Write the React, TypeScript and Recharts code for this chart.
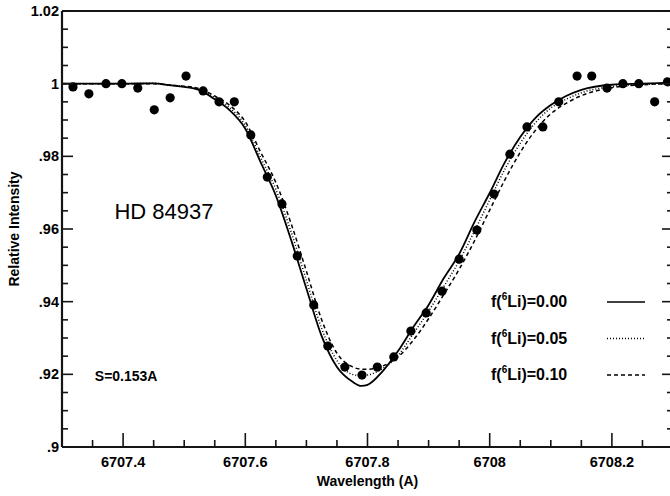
import {
  ComposedChart,
  Line,
  Scatter,
  XAxis,
  YAxis,
  Legend,
  ReferenceDot,
} from "recharts";

const FONT = "'Liberation Sans', Arial, Helvetica, sans-serif";
const INK = "#151515";

// Observed spectrum of HD 84937 (filled circles)
const OBS_WAVE = [
  6707.318, 6707.344, 6707.372, 6707.398, 6707.424, 6707.451, 6707.477, 6707.503,
  6707.531, 6707.557, 6707.582, 6707.609, 6707.636, 6707.660, 6707.685, 6707.712,
  6707.735, 6707.763, 6707.791, 6707.816, 6707.843, 6707.871, 6707.896, 6707.922,
  6707.950, 6707.979, 6708.007, 6708.033, 6708.061, 6708.087, 6708.113, 6708.143,
  6708.167, 6708.192, 6708.218, 6708.244, 6708.270, 6708.291,
];
const OBS_INT = [
  0.9991, 0.9972, 1.0, 1.0, 0.9988, 0.9928, 0.9961, 1.0021,
  0.998, 0.995, 0.995, 0.9859, 0.9743, 0.9669, 0.9526, 0.9391,
  0.9278, 0.922, 0.9198, 0.922, 0.9248, 0.9319, 0.9369, 0.9429,
  0.9517, 0.9597, 0.9696, 0.9806, 0.9881, 0.9881, 0.995, 1.0021,
  1.0021, 0.9988, 1.0, 1.0, 0.995, 1.0005,
];

// Synthetic profiles, common wavelength grid
const MODEL_WAVE = [
  6707.3, 6707.35, 6707.4, 6707.45, 6707.475, 6707.5, 6707.525, 6707.55, 6707.575,
  6707.6, 6707.625, 6707.65, 6707.675, 6707.7, 6707.725, 6707.75, 6707.775, 6707.79,
  6707.8, 6707.825, 6707.85, 6707.875, 6707.9, 6707.925, 6707.95, 6707.975, 6708.0,
  6708.025, 6708.05, 6708.075, 6708.1, 6708.125, 6708.15, 6708.2, 6708.25, 6708.3,
];
// f(6Li) = 0.00
const MODEL_LI00 = [
  1.0, 1.0, 1.0, 1.0001, 0.9996, 0.9991, 0.9982, 0.9957, 0.9926,
  0.9876, 0.9784, 0.9692, 0.957, 0.9436, 0.9305, 0.922, 0.918, 0.9168,
  0.9171, 0.9209, 0.9264, 0.933, 0.9391, 0.9465, 0.9531, 0.9619, 0.9699,
  0.9784, 0.9853, 0.9906, 0.9941, 0.9966, 0.9983, 0.9997, 1.0, 1.0003,
];
// f(6Li) = 0.05
const MODEL_LI05 = [
  1.0, 1.0, 1.0, 1.0001, 0.9996, 0.9992, 0.9984, 0.9962, 0.9933,
  0.9885, 0.9797, 0.9709, 0.9592, 0.9459, 0.9326, 0.9238, 0.92, 0.9196,
  0.9198, 0.9216, 0.9252, 0.9312, 0.9374, 0.9442, 0.9512, 0.9594, 0.968,
  0.9765, 0.9836, 0.9893, 0.9933, 0.9957, 0.9975, 0.9992, 0.9998, 1.0,
];
// f(6Li) = 0.10
const MODEL_LI10 = [
  1.0, 1.0, 1.0, 1.0, 0.9996, 0.9993, 0.9986, 0.9966, 0.994,
  0.9895, 0.9812, 0.9728, 0.9615, 0.9484, 0.935, 0.9258, 0.9221, 0.9214,
  0.9214, 0.9223, 0.9248, 0.9294, 0.9353, 0.942, 0.9489, 0.9567, 0.9652,
  0.9736, 0.9811, 0.9872, 0.9917, 0.9946, 0.9967, 0.9989, 0.9997, 1.0,
];

const X_MAJOR = [6707.4, 6707.6, 6707.8, 6708, 6708.2];
const X_MINOR = [
  6707.3, 6707.35, 6707.45, 6707.5, 6707.55, 6707.65, 6707.7, 6707.75,
  6707.85, 6707.9, 6707.95, 6708.05, 6708.1, 6708.15, 6708.25, 6708.3,
];
const Y_MAJOR = [0.9, 0.92, 0.94, 0.96, 0.98, 1, 1.02];
const Y_MINOR = [
  0.905, 0.91, 0.915, 0.925, 0.93, 0.935, 0.945, 0.95, 0.955,
  0.965, 0.97, 0.975, 0.985, 0.99, 0.995, 1.005, 1.01, 1.015,
];

const LEGEND_VALUES = ["0.00", "0.05", "0.10"];
const LEGEND_DASH = [undefined, "1 2", "4 3"];

const X_DOMAIN: [number, number] = [6707.3, 6708.3];
const Y_DOMAIN: [number, number] = [0.9, 1.02];
const X_TICKS = [...X_MAJOR, ...X_MINOR].sort((a, b) => a - b);
const Y_TICKS = [...Y_MAJOR, ...Y_MINOR].sort((a, b) => a - b);

const obs = OBS_WAVE.map((w, k) => ({ w, i: OBS_INT[k] }));
const li00 = MODEL_WAVE.map((w, k) => ({ w, i: MODEL_LI00[k] }));
const li05 = MODEL_WAVE.map((w, k) => ({ w, i: MODEL_LI05[k] }));
const li10 = MODEL_WAVE.map((w, k) => ({ w, i: MODEL_LI10[k] }));

const isIn = (v: number, list: number[]) => list.some((m) => Math.abs(m - v) < 1e-6);
const fmtX = (v: number) => String(Number(v.toFixed(1)));
const fmtY = (v: number) => String(Number(v.toFixed(2))).replace(/^0\./, ".");

const labelStyle = { fontFamily: FONT, fontWeight: 700, fontSize: 14.5, fill: "#000" };

function BottomTick(p: any) {
  const major = isIn(p.payload.value, X_MAJOR);
  return (
    <g>
      <path d={`M${p.x},${p.y}V${p.y - (major ? 14 : 7)}`} stroke={INK} strokeWidth={1.6} fill="none" />
      {major && (
        <text x={p.x} y={p.y + 20} textAnchor="middle" style={labelStyle}>
          {fmtX(p.payload.value)}
        </text>
      )}
    </g>
  );
}

function TopTick(p: any) {
  const major = isIn(p.payload.value, X_MAJOR);
  return <path d={`M${p.x},${p.y}V${p.y + (major ? 14 : 7)}`} stroke={INK} strokeWidth={1.6} fill="none" />;
}

function LeftTick(p: any) {
  const major = isIn(p.payload.value, Y_MAJOR);
  return (
    <g>
      <path d={`M${p.x},${p.y}H${p.x + (major ? 11 : 6)}`} stroke={INK} strokeWidth={1.6} fill="none" />
      {major && (
        <text x={p.x - 3} y={p.y} textAnchor="end" dominantBaseline="central" style={labelStyle}>
          {fmtY(p.payload.value)}
        </text>
      )}
    </g>
  );
}

function RightTick(p: any) {
  const major = isIn(p.payload.value, Y_MAJOR);
  return <path d={`M${p.x},${p.y}H${p.x - (major ? 11 : 6)}`} stroke={INK} strokeWidth={1.6} fill="none" />;
}

const renderXTitle = (p: any) => {
  const vb = p.viewBox;
  return (
    <text x={vb.x + vb.width / 2} y={vb.y + 39} textAnchor="middle" style={{ ...labelStyle, fontSize: 14 }}>
      Wavelength (A)
    </text>
  );
};

const renderYTitle = (p: any) => {
  const vb = p.viewBox;
  const cx = vb.x + 12;
  const cy = vb.y + vb.height / 2;
  return (
    <text
      x={cx}
      y={cy}
      transform={`rotate(-90, ${cx}, ${cy})`}
      textAnchor="middle"
      dominantBaseline="central"
      style={{ ...labelStyle, fontSize: 14 }}
    >
      Relative Intensity
    </text>
  );
};

const note = (text: string, size: number, weight: number) => (p: any) => {
  const vb = p.viewBox;
  return (
    <text
      x={vb.x + vb.width / 2}
      y={vb.y + vb.height / 2}
      textAnchor="middle"
      dominantBaseline="central"
      style={{ fontFamily: FONT, fontSize: size, fontWeight: weight, fill: "#000" }}
    >
      {text}
    </text>
  );
};

const renderLegend = () => (
  <svg width={180} height={110} style={{ display: "block" }}>
    {LEGEND_VALUES.map((v, k) => {
      const cy = 19 + k * 36.5;
      return (
        <g key={v}>
          <text x={3} y={cy + 6} style={{ fontFamily: FONT, fontWeight: 700, fontSize: 16, fill: "#000" }}>
            f(
            <tspan fontSize={10} dy={-7}>6</tspan>
            <tspan dy={7}>Li)={v}</tspan>
          </text>
          <line
            x1={119}
            y1={cy + 1}
            x2={157}
            y2={cy + 1}
            stroke="#000"
            strokeWidth={1.5}
            strokeDasharray={LEGEND_DASH[k]}
          />
        </g>
      );
    })}
  </svg>
);

const axisCommon = {
  type: "number" as const,
  allowDataOverflow: true,
  interval: 0 as const,
  tickSize: 0,
  tickMargin: 0,
  tickLine: false,
  axisLine: { stroke: INK, strokeWidth: 2.2 },
};

export default function App() {
  return (
    <div style={{ position: "absolute", left: 0, top: 0, width: 670, height: 496, overflow: "hidden", background: "#fff" }}>
      <div style={{ width: 680, height: 496, position: "relative" }}>
        <ComposedChart width={680} height={496} margin={{ top: 10, right: 6, bottom: 1, left: 2 }}>
          <XAxis
            {...axisCommon}
            xAxisId="b"
            dataKey="w"
            domain={X_DOMAIN}
            ticks={X_TICKS}
            tick={BottomTick}
            height={48}
            label={{ value: "Wavelength (A)", content: renderXTitle }}
          />
          <XAxis
            {...axisCommon}
            xAxisId="t"
            orientation="top"
            domain={X_DOMAIN}
            ticks={X_TICKS}
            tick={TopTick}
            height={1}
          />
          <YAxis
            {...axisCommon}
            yAxisId="l"
            dataKey="i"
            domain={Y_DOMAIN}
            ticks={Y_TICKS}
            tick={LeftTick}
            width={60}
            label={{ value: "Relative Intensity", content: renderYTitle }}
          />
          <YAxis
            {...axisCommon}
            yAxisId="r"
            orientation="right"
            domain={Y_DOMAIN}
            ticks={Y_TICKS}
            tick={RightTick}
            width={1}
          />
          <Line
            xAxisId="b"
            yAxisId="l"
            data={li00}
            dataKey="i"
            name={LEGEND_VALUES[0]}
            type="monotone"
            stroke="#000"
            strokeWidth={1.8}
            dot={false}
            activeDot={false}
            isAnimationActive={false}
          />
          <Line
            xAxisId="b"
            yAxisId="l"
            data={li05}
            dataKey="i"
            name={LEGEND_VALUES[1]}
            type="monotone"
            stroke="#000"
            strokeWidth={1.5}
            strokeDasharray={LEGEND_DASH[1]}
            dot={false}
            activeDot={false}
            isAnimationActive={false}
          />
          <Line
            xAxisId="b"
            yAxisId="l"
            data={li10}
            dataKey="i"
            name={LEGEND_VALUES[2]}
            type="monotone"
            stroke="#000"
            strokeWidth={1.5}
            strokeDasharray={LEGEND_DASH[2]}
            dot={false}
            activeDot={false}
            isAnimationActive={false}
          />
          <Scatter
            xAxisId="b"
            yAxisId="l"
            data={obs}
            dataKey="i"
            legendType="none"
            isAnimationActive={false}
            shape={(p: any) => <circle cx={p.cx} cy={p.cy} r={4.6} fill="#000" />}
          />
          <ReferenceDot
            xAxisId="b"
            yAxisId="l"
            x={6707.467}
            y={0.9647}
            r={0}
            stroke="none"
            fill="none"
            label={{ value: "HD 84937", content: note("HD 84937", 22, 400) }}
          />
          <ReferenceDot
            xAxisId="b"
            yAxisId="l"
            x={6707.405}
            y={0.9195}
            r={0}
            stroke="none"
            fill="none"
            label={{ value: "S=0.153A", content: note("S=0.153A", 14, 700) }}
          />
          <Legend
            content={renderLegend}
            layout="horizontal"
            verticalAlign="middle"
            align="center"
            wrapperStyle={{ position: "absolute", left: 488, top: 282, width: 180, height: 110 }}
          />
        </ComposedChart>
      </div>
    </div>
  );
}
